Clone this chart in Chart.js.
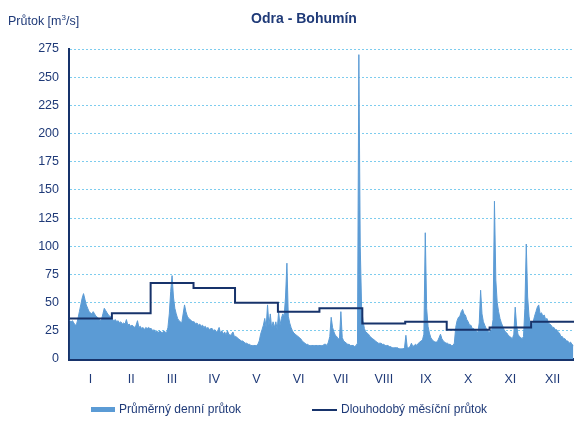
<!DOCTYPE html>
<html>
<head>
<meta charset="utf-8">
<script src="https://cdn.jsdelivr.net/npm/chart.js@4.4.0/dist/chart.umd.min.js"></script>
<style>
  body { margin: 0; background: #fff; }
  #wrap { position: relative; width: 574px; height: 422px; font-family: "Liberation Sans", Arial, sans-serif; color: #1F3A78; }
  #chart { position: absolute; left: 0; top: 0; }
  .title { position: absolute; top: 10px; left: 204px; width: 200px; text-align: center; font-weight: bold; font-size: 14px; line-height: 16px; }
  .unit { position: absolute; left: 8px; top: 14px; font-size: 12.5px; line-height: 14px; }
  .unit sup { font-size: 8px; line-height: 0; }
  .lg { position: absolute; top: 402px; font-size: 12px; line-height: 15px; }
  .lg-box { position: absolute; left: 91px; top: 407px; width: 24px; height: 5px; background: #5B9BD5; }
  .lg-line { position: absolute; left: 312px; top: 409px; width: 25px; height: 2px; background: #17336B; }
</style>
</head>
<body>
<div id="wrap">
  <canvas id="chart" width="574" height="422"></canvas>
  <div class="title">Odra - Bohumín</div>
  <div class="unit">Průtok [m<sup>3</sup>/s]</div>
  <div class="lg-box"></div>
  <div class="lg" style="left:119px">Průměrný denní průtok</div>
  <div class="lg-line"></div>
  <div class="lg" style="left:341px">Dlouhodobý měsíční průtok</div>
</div>
<script>
// month labels and lengths
const monthLabels = ["I","II","III","IV","V","VI","VII","VIII","IX","X","XI","XII"];
const monthDays = [31,28,31,30,31,30,31,31,30,31,30,31];
// long-term monthly mean flow [m3/s]
const monthlyMean = [36, 40.5, 67.5, 63, 50, 42, 45, 31.5, 33, 26, 28, 33];

// daily mean flow [m3/s], one array per month
const jan = [34,33,34,32,30,31,36,42,48,54,58,53,48,45,42,41,40,42,40,38,37,36,34,35,40,45,43,41,39,38,37];
const feb = [35,34,35,33,34,32,33,31,32,31,35,30,31,29,30,29,28,30,34,28,29,27,28,26,28,27,28,27];
const mar = [27,25,26,24,25,23,25,24,23,25,24,23,28,40,60,74,55,45,40,36,34,33,32,40,48,42,38,36,35,34,33];
const apr = [33,31,32,30,31,29,30,28,29,27,28,26,27,27,25,26,24,25,28,23,25,22,24,21,25,22,21,22,24,20];
const may = [20,19,18,17,16,16,15,14,14,13,13,12,12,12,12,12,13,16,22,26,30,36,28,48,30,40,27,33,28,33,26];
const jun = [42,30,36,40,38,55,85,38,32,28,25,23,22,21,20,19,18,16,15,14,13,13,12,12,12,12,12,12,12,12];
const jul = [12,12,12,13,13,12,15,20,37,28,24,21,20,18,18,42,19,16,15,14,13,13,12,12,12,11,12,14,270,100,45];
const aug = [34,27,24,23,22,20,19,18,17,16,15,14,14,14,13,13,12,12,12,11,11,10,10,10,10,10,9,9,9,9,10];
const sep = [21,10,10,11,14,11,12,13,12,14,15,16,17,22,112,45,29,23,19,17,16,15,15,16,19,22,18,16,15,14];
const oct = [14,13,13,12,12,14,28,34,37,38,42,44,40,39,35,33,30,30,27,27,25,25,23,32,61,40,33,30,27,26,23];
const nov = [25,26,35,140,70,50,42,36,32,29,26,24,23,21,20,19,18,22,46,30,22,20,19,18,20,45,102,55,38,29];
const dec = [29,33,38,42,46,48,40,41,38,39,35,36,32,31,30,28,28,26,26,24,23,20,20,18,18,16,16,14,15,13,12];

const yMax = 275;
const yStep = 25;

const navy = "#17336B";
const textColor = "#1F3A78";
const areaColor = "#5B9BD5";
const gridColor = "#7DCCEE";

const daily = [jan,feb,mar,apr,may,jun,jul,aug,sep,oct,nov,dec].flat();
const dailyPoints = daily.map((v, i) => ({x: i + 0.5, y: v}));

const monthStarts = [0];
monthDays.forEach(d => monthStarts.push(monthStarts[monthStarts.length - 1] + d));
const monthCenters = monthDays.map((d, m) => monthStarts[m] + d / 2);

const stepPoints = monthlyMean.map((v, m) => ({x: monthStarts[m], y: v}));
stepPoints.push({x: monthStarts[12], y: monthlyMean[11]});

const tickFont = {family: "'Liberation Sans', Arial, sans-serif", size: 12.5};

new Chart(document.getElementById("chart"), {
  type: "line",
  data: {
    datasets: [
      {
        label: "Dlouhodobý měsíční průtok",
        data: stepPoints,
        borderColor: navy,
        borderWidth: 2,
        stepped: true,
        fill: false,
        pointRadius: 0,
        order: 0
      },
      {
        label: "Průměrný denní průtok",
        data: dailyPoints,
        borderColor: areaColor,
        borderWidth: 1,
        backgroundColor: areaColor,
        fill: "origin",
        tension: 0,
        pointRadius: 0,
        order: 1
      }
    ]
  },
  options: {
    responsive: false,
    animation: false,
    devicePixelRatio: 1,
    layout: {padding: {top: 49, bottom: 33, left: 0, right: 0}},
    plugins: {legend: {display: false}, tooltip: {enabled: false}, title: {display: false}},
    scales: {
      x: {
        type: "linear",
        min: 0,
        max: monthStarts[12],
        grid: {display: false},
        border: {color: navy, width: 3},
        afterBuildTicks: (scale) => { scale.ticks = monthCenters.map(v => ({value: v})); },
        afterFit: (scale) => { scale.height = 30; },
        ticks: {
          autoSkip: false,
          maxRotation: 0,
          padding: 5,
          color: textColor,
          font: tickFont,
          callback: (val, idx) => monthLabels[idx]
        }
      },
      y: {
        min: 0,
        max: yMax,
        afterFit: (scale) => { scale.width = 69; },
        grid: {color: gridColor, lineWidth: 1, drawTicks: false},
        border: {color: navy, width: 2, dash: [2, 2]},
        ticks: {stepSize: yStep, padding: 10, color: textColor, font: tickFont}
      }
    }
  }
});
</script>
</body>
</html>
